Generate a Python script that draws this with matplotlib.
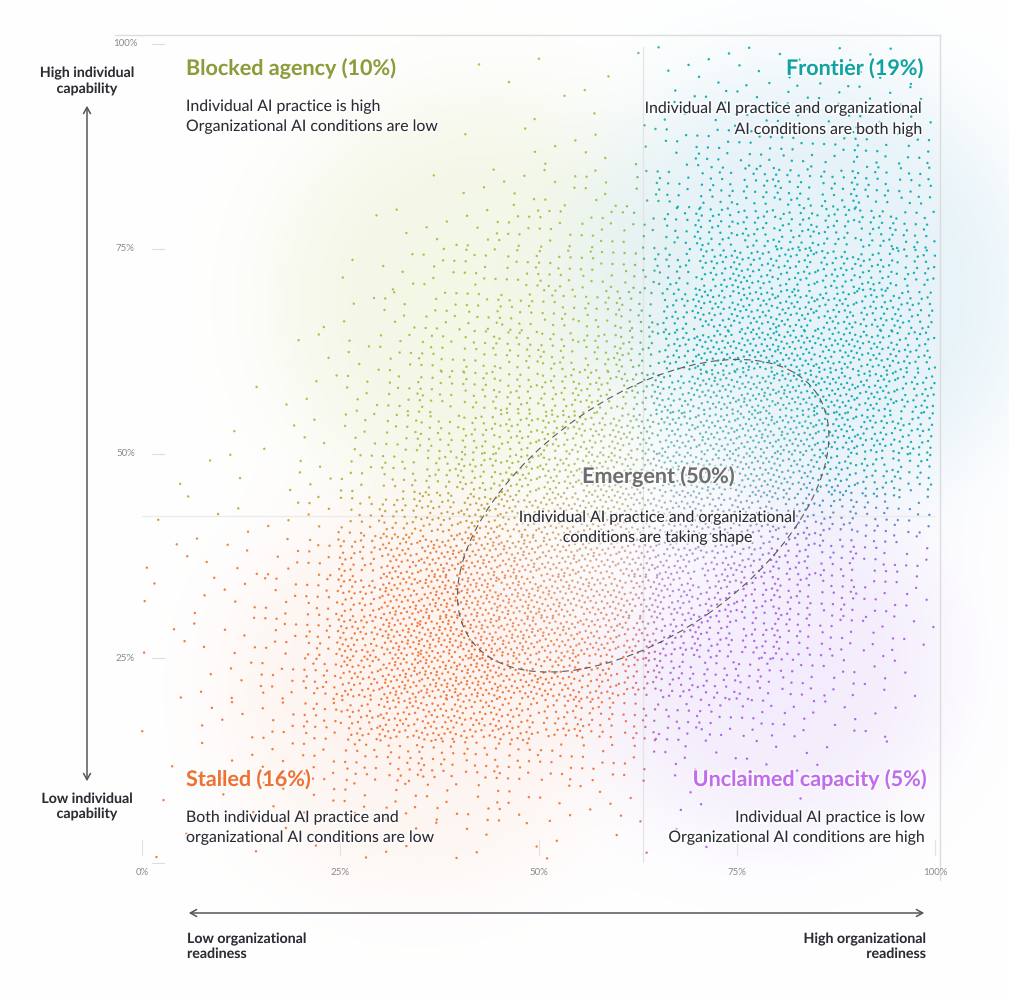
import numpy as np
import matplotlib.pyplot as plt
from matplotlib.patches import Ellipse
import matplotlib.patheffects as pe

W, H = 1009, 1002

x_ticks = [0, 25, 50, 75, 100]
y_ticks = [25, 50, 75, 100]
tick_labels_x = ["0%", "25%", "50%", "75%", "100%"]
tick_labels_y = ["25%", "50%", "75%", "100%"]

split_x = 63.2   # organizational readiness cut
split_y = 42.4   # individual capability cut

# approximate number of dots per 5% x 5% cell
# rows from top (95-100%) to bottom (0-5%), columns from 0-5% to 95-100%
density = [
    [0, 0, 0, 0, 0, 0, 0, 0, 1, 1, 1, 1, 1, 3, 4, 4, 4, 4, 4, 3],
    [0, 0, 0, 0, 0, 0, 0, 0, 0, 1, 1, 2, 2, 5, 7, 7, 7, 7, 7, 6],
    [0, 0, 0, 0, 0, 0, 0, 0, 1, 2, 3, 3, 3, 8, 12, 13, 13, 13, 12, 10],
    [0, 0, 0, 0, 0, 0, 0, 1, 3, 5, 6, 7, 7, 14, 20, 22, 22, 22, 20, 16],
    [0, 0, 0, 0, 0, 1, 2, 4, 7, 9, 10, 11, 11, 18, 28, 30, 30, 28, 26, 20],
    [0, 0, 0, 0, 0, 2, 5, 8, 11, 13, 14, 15, 15, 24, 36, 38, 38, 36, 32, 26],
    [0, 0, 0, 0, 1, 3, 7, 11, 14, 17, 18, 19, 20, 30, 42, 45, 45, 42, 38, 30],
    [0, 0, 0, 1, 2, 5, 10, 14, 18, 21, 22, 24, 26, 36, 48, 50, 50, 46, 42, 34],
    [0, 0, 1, 1, 3, 7, 12, 17, 22, 25, 28, 30, 32, 40, 50, 52, 52, 48, 44, 36],
    [0, 0, 1, 2, 3, 8, 14, 20, 26, 32, 36, 40, 42, 46, 50, 52, 50, 46, 40, 32],
    [1, 1, 2, 2, 4, 10, 18, 25, 32, 38, 44, 46, 48, 50, 50, 48, 44, 38, 30, 22],
    [1, 2, 2, 3, 6, 16, 28, 36, 42, 46, 50, 50, 50, 48, 44, 40, 34, 26, 20, 12],
    [2, 3, 4, 6, 12, 28, 44, 52, 55, 55, 52, 50, 50, 44, 40, 34, 28, 22, 14, 8],
    [2, 3, 4, 8, 16, 36, 52, 58, 60, 58, 54, 50, 46, 40, 36, 30, 24, 18, 12, 6],
    [2, 3, 5, 10, 20, 42, 58, 62, 62, 58, 52, 48, 42, 34, 30, 26, 20, 14, 8, 4],
    [1, 2, 5, 10, 22, 42, 56, 60, 58, 52, 44, 38, 32, 26, 22, 18, 14, 9, 5, 2],
    [1, 2, 4, 8, 18, 32, 42, 44, 42, 36, 30, 24, 18, 16, 14, 12, 8, 5, 3, 1],
    [1, 1, 3, 5, 10, 16, 20, 20, 18, 15, 12, 10, 8, 6, 5, 4, 3, 2, 1, 0],
    [1, 1, 2, 3, 5, 7, 8, 8, 7, 6, 5, 4, 3, 2, 2, 1, 1, 0, 0, 0],
    [1, 1, 1, 1, 2, 3, 3, 3, 3, 2, 2, 1, 1, 1, 1, 0, 0, 0, 0, 0],
]

# quadrant colours (dots / titles)
dot_tl, dot_tr, dot_bl, dot_br = "#A9C24E", "#17B0B4", "#F27B44", "#B268E6"
title_tl, title_tr, title_bl, title_br = "#8C9C3A", "#12A2A4", "#EE7234", "#C06CEC"
text_dark = "#2C2C34"

# emergent zone outline (centre, axes, tilt)
ell_cx, ell_cy, ell_w, ell_h, ell_ang = 63.2, 42.4, 53.0, 29.0, 34

# soft background clouds, figure pixels
blob_x = [480, 800, 420, 770, 650]
blob_y = [300, 290, 690, 660, 500]
blob_r = [200, 220, 190, 170, 120]
blob_c = ["#EFF4DC", "#DFEFF6", "#FCEAE2", "#EFE6FB", "#FFFFFF"]
blob_a = [0.7, 0.8, 0.5, 0.75, 0.55]


def hex_rgb(h):
    h = h.lstrip("#")
    return np.array([int(h[i:i + 2], 16) / 255 for i in (0, 2, 4)])


def px(x, y):
    return x / W, 1 - y / H


# dot positions: fill each cell with a chunk of an R2 low discrepancy sequence
g = 1.32471795724474602596
a1, a2 = 1 / g, 1 / g ** 2
xs, ys = [], []
k0 = 0
for r, row in enumerate(density):
    for c, n in enumerate(row):
        if n == 0:
            continue
        k = np.arange(k0, k0 + n)
        k0 += n
        xs.append(c * 5 + 5 * ((0.5 + a1 * k) % 1))
        ys.append(95 - r * 5 + 5 * ((0.5 + a2 * k) % 1))
xs = np.concatenate(xs)
ys = np.concatenate(ys)

# colour by position: quadrant blend, paler towards the emergent centre
wx = 1 / (1 + np.exp(-(xs - split_x) / 1.2))[:, None]
wy = 1 / (1 + np.exp(-(ys - split_y) / 2.5))[:, None]
cols = (1 - wx) * (wy * hex_rgb(dot_tl) + (1 - wy) * hex_rgb(dot_bl)) + \
    wx * (wy * hex_rgb(dot_tr) + (1 - wy) * hex_rgb(dot_br))
t = np.radians(ell_ang)
dx, dy = xs - ell_cx, ys - ell_cy
u = (dx * np.cos(t) + dy * np.sin(t)) / (ell_w / 2)
v = (-dx * np.sin(t) + dy * np.cos(t)) / (ell_h / 2)
rr = np.sqrt(u ** 2 + v ** 2)
fade = (np.clip(1 - rr, 0, 1) ** 0.6 * 0.7)[:, None]
cols = cols * (1 - fade) + np.array([0.80, 0.79, 0.77]) * fade

fig = plt.figure(figsize=(W / 100, H / 100), dpi=100)

# background clouds
bg = fig.add_axes([0, 0, 1, 1])
gx, gy = np.meshgrid(np.arange(W), np.arange(H))
img = np.ones((H, W, 3))
for bx, by, br, bc, ba in zip(blob_x, blob_y, blob_r, blob_c, blob_a):
    d = np.sqrt((gx - bx) ** 2 + (gy - by) ** 2)
    a = ba / (1 + np.exp((d - br) / 30))
    img = img * (1 - a[..., None]) + hex_rgb(bc) * a[..., None]
bg.imshow(img, extent=(0, W, H, 0), aspect="auto", interpolation="bilinear")
bg.set_xlim(0, W)
bg.set_ylim(H, 0)
bg.axis("off")

# frame, quadrant lines, ticks (figure pixels)
frame = "#DCDCDC"
bg.plot([115, 940], [35, 35], color=frame, lw=1)
bg.plot([940, 940], [35, 880], color=frame, lw=1)

ax = fig.add_axes([142 / W, (H - 863) / H, 793 / W, 819 / H])
ax.patch.set_alpha(0)
ax.set_xlim(0, 100)
ax.set_ylim(0, 100)
ax.axis("off")

ax.plot([split_x, split_x], [-0.3, 99.6], color="#E4E4E4", lw=0.9, zorder=1)
ax.plot([0, 100], [split_y, split_y], color="#EBEBEB", lw=0.9, zorder=1)
for yt in [0] + y_ticks:
    ax.plot([1.3, 2.8], [yt, yt], color="#DDDDDD", lw=0.8, clip_on=False)
for xt in x_ticks:
    ax.plot([xt, xt], [1.0, 2.8], color="#E2E2E2", lw=0.8, clip_on=False)
for yt, lab in zip(y_ticks, tick_labels_y):
    ax.text(-2.1, yt, lab, ha="center", va="center", fontsize=7,
            color="#8A8A8A", family="Lato")
for xt, lab in zip(x_ticks, tick_labels_x):
    ax.text(xt, -1.2, lab, ha="center", va="center", fontsize=7,
            color="#8A8A8A", family="Lato")

ax.scatter(xs, ys, s=3.0, c=cols, linewidths=0, zorder=2, clip_on=False)

ax.add_patch(Ellipse((ell_cx, ell_cy), ell_w, ell_h, angle=ell_ang, fill=False,
                     ec="#5A5A5A", lw=0.8, ls=(0, (6, 4)), zorder=3))

halo = [pe.withStroke(linewidth=2.5, foreground="white", alpha=0.7)]


def label(x, y, s, size, color, ha="left", weight="normal"):
    fx, fy = px(x, y)
    fig.text(fx, fy, s, ha=ha, va="baseline", fontsize=size, color=color,
             fontweight=weight, family="Lato", path_effects=halo, zorder=5)


tsize, bsize = 15.5, 11.4
label(186, 75, "Blocked agency (10%)", tsize, title_tl, weight="bold")
label(186, 111, "Individual AI practice is high", bsize, text_dark)
label(186, 131, "Organizational AI conditions are low", bsize, text_dark)

label(923, 75, "Frontier (19%)", tsize, title_tr, ha="right", weight="bold")
label(923, 113, "Individual AI practice and organizational", bsize, text_dark, ha="right")
label(923, 134, "AI conditions are both high", bsize, text_dark, ha="right")

label(658, 483, "Emergent (50%)", tsize, "#6E6E6E", ha="center", weight="bold")
label(658, 522, "Individual AI practice and organizational", bsize, text_dark, ha="center")
label(658, 542, "conditions are taking shape", bsize, text_dark, ha="center")

label(186, 786, "Stalled (16%)", tsize, title_bl, weight="bold")
label(186, 822, "Both individual AI practice and", bsize, text_dark)
label(186, 842, "organizational AI conditions are low", bsize, text_dark)

label(926, 786, "Unclaimed capacity (5%)", tsize, title_br, ha="right", weight="bold")
label(926, 822, "Individual AI practice is low", bsize, text_dark, ha="right")
label(926, 842, "Organizational AI conditions are high", bsize, text_dark, ha="right")

# axis direction arrows
asize = 10.2
label(87, 77, "High individual", asize, text_dark, ha="center", weight="bold")
label(87, 93, "capability", asize, text_dark, ha="center", weight="bold")
label(87, 803, "Low individual", asize, text_dark, ha="center", weight="bold")
label(87, 818, "capability", asize, text_dark, ha="center", weight="bold")
label(187, 943, "Low organizational", asize, text_dark, weight="bold")
label(187, 958, "readiness", asize, text_dark, weight="bold")
label(926, 943, "High organizational", asize, text_dark, ha="right", weight="bold")
label(926, 958, "readiness", asize, text_dark, ha="right", weight="bold")

arrow = dict(arrowstyle="<->,head_length=0.45,head_width=0.25", color="#55555C", lw=1.1)
bg.annotate("", xy=(87, 103), xytext=(87, 784), arrowprops=arrow)
bg.annotate("", xy=(186, 913), xytext=(927, 913), arrowprops=arrow)

fig.savefig("out.png", dpi=100)
